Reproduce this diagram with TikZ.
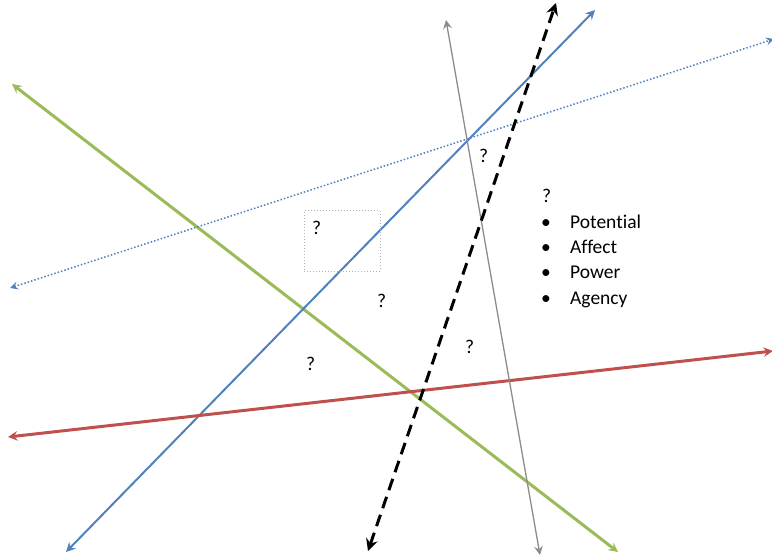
\documentclass[tikz,border=0pt]{standalone}
\usepackage{fontspec}
\setmainfont[Ligatures=NoCommon]{Carlito}
\usetikzlibrary{arrows.meta}
\definecolor{ogreen}{HTML}{9BBB59}
\definecolor{oblue}{HTML}{4F81BD}
\definecolor{ored}{HTML}{C0504D}
\definecolor{ogray}{HTML}{8C8C8C}
\begin{document}
\begin{tikzpicture}[x=1pt,y=-1pt,
  tip/.style={{Stealth[length=#1*3.2,width=#1*3.2,inset=#1*1.2]}-{Stealth[length=#1*3.2,width=#1*3.2,inset=#1*1.2]}},
  lbl/.style={font=\fontsize{19.5}{23}\selectfont, inner sep=0pt, anchor=base west}]
\useasboundingbox (0,0) rectangle (772,559);
% endpoints
\coordinate (g1) at (12,84);   \coordinate (g2) at (618,552);
\coordinate (b1) at (66,552);  \coordinate (b2) at (595,10);
\coordinate (d1) at (10,288);  \coordinate (d2) at (774,39);
\coordinate (r1) at (8,437);   \coordinate (r2) at (773,351);
\coordinate (y1) at (446,20);  \coordinate (y2) at (540,555);
\coordinate (k1) at (368,551); \coordinate (k2) at (556,3);
% lines
\draw[ogreen, line width=3pt, tip=3] (g1) -- (g2);
\draw[oblue, line width=2pt, tip=3] (b1) -- (b2);
\draw[oblue, line width=1.5pt, dotted, {Stealth[length=8pt,width=8pt,inset=3pt]}-{Stealth[length=8pt,width=8pt,inset=3pt]}] (d1) -- (d2);
\draw[ored, line width=3pt, tip=3] (r1) -- (r2);
\draw[ogray, line width=1.3pt, tip=2.8] (y1) -- (y2);
\draw[black, line width=3pt, dash pattern=on 12pt off 7pt, {Stealth[length=12pt,width=12pt,inset=4pt]}-{Stealth[length=12pt,width=12pt,inset=4pt]}] (k1) -- (k2);
% dotted box
\node[draw=gray!60, dotted, line width=1pt, minimum width=76pt, minimum height=60pt, inner sep=0pt] (box) at (342,241) {};
% question marks
\node[lbl] (q1) at (312,235) {?};
\node[lbl] (q2) at (479,163) {?};
\node[lbl] (q3) at (377,307) {?};
\node[lbl] (q4) at (465,353) {?};
\node[lbl] (q5) at (306,370) {?};
% list
\node[lbl] (lq) at (542,203) {?};
\node[lbl] (b1l) at (541,229) {\textbullet};
\node[lbl] (l1) at (570,229) {Potential};
\node[lbl] (b2l) at (541,254) {\textbullet};
\node[lbl] (l2) at (570,254) {Affect};
\node[lbl] (b3l) at (541,279) {\textbullet};
\node[lbl] (l3) at (570,279) {Power};
\node[lbl] (b4l) at (541,304) {\textbullet};
\node[lbl] (l4) at (570,304) {Agency};
\end{tikzpicture}
\end{document}
